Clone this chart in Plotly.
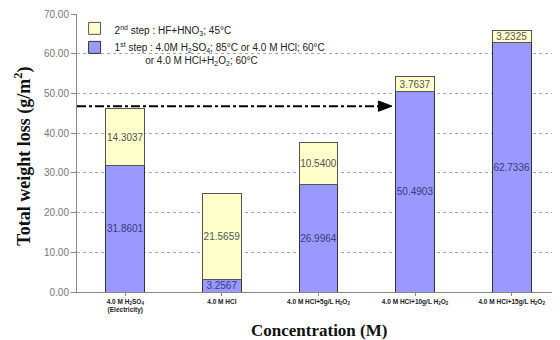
import plotly.graph_objects as go

categories = [
    "4.0 M H<sub>2</sub>SO<sub>4</sub><br>(Electricity)",
    "4.0 M HCl",
    "4.0 M HCl+5g/L H<sub>2</sub>O<sub>2</sub>",
    "4.0 M HCl+10g/L H<sub>2</sub>O<sub>2</sub>",
    "4.0 M HCl+15g/L H<sub>2</sub>O<sub>2</sub>",
]
step1 = [31.8601, 3.2567, 26.9964, 50.4903, 62.7336]
step2 = [14.3037, 21.5659, 10.5400, 3.7637, 3.2325]
ref_level = 46.8

name1 = ("1<sup>st</sup> step : 4.0M H<sub>2</sub>SO<sub>4</sub>; 85°C or 4.0 M HCl; 60°C<br>"
         "           or 4.0 M HCl+H<sub>2</sub>O<sub>2</sub>; 60°C")
name2 = "2<sup>nd</sup> step : HF+HNO<sub>3</sub>; 45°C"

xs = list(range(len(categories)))
fig = go.Figure()
fig.add_trace(go.Bar(
    x=xs, y=step1, name=name1, width=0.4,
    marker=dict(color="#9999FF", line=dict(color="#333333", width=1)),
    text=[f"{v:.4f}" for v in step1], textposition="inside", insidetextanchor="middle",
    textangle=0,
    textfont=dict(size=10, color="#3a3a80", family="Arial"),
))
fig.add_trace(go.Bar(
    x=xs, y=step2, name=name2, width=0.4,
    marker=dict(color="#FFFFCC", line=dict(color="#555555", width=1)),
    text=[f"{v:.4f}" for v in step2], textposition="inside", insidetextanchor="middle",
    textangle=0,
    textfont=dict(size=10, color="#555555", family="Arial"),
))

# dash-dot reference line with arrowhead
fig.add_shape(type="line", xref="x", yref="y", x0=-0.5, x1=2.66, y0=ref_level, y1=ref_level,
              line=dict(color="black", width=2, dash="dashdot"))
fig.add_shape(type="path", xref="x", yref="y",
              path=f"M 2.62,{ref_level+1.3} L 2.76,{ref_level} L 2.62,{ref_level-1.3} Z",
              fillcolor="black", line=dict(color="black", width=1))

fig.add_annotation(text="<b>Concentration (M)</b>", xref="paper", yref="paper",
                   x=0.5, y=-0.137, yanchor="middle", showarrow=False,
                   font=dict(family="Times New Roman, Liberation Serif, serif", size=17,
                             color="#111111"))
fig.add_annotation(text="<b>Total weight loss (g/m<sup>2</sup>)</b>", xref="paper", yref="paper",
                   x=-0.112, y=0.49, xanchor="center", yanchor="middle", textangle=-90,
                   showarrow=False,
                   font=dict(family="Times New Roman, Liberation Serif, serif", size=18,
                             color="#111111"))

fig.update_layout(
    width=552, height=332,
    barmode="stack",
    plot_bgcolor="white", paper_bgcolor="white",
    margin=dict(l=69, r=0, t=6, b=48, autoexpand=False),
    uniformtext=dict(minsize=9, mode="show"),
    showlegend=True,
    legend=dict(x=-0.005, y=0.995, xanchor="left", yanchor="top", traceorder="reversed",
                valign="top", bgcolor="rgba(0,0,0,0)",
                font=dict(family="Arial", size=10, color="#222222"),
                itemwidth=30, tracegroupgap=0),
    xaxis=dict(
        tickmode="array", tickvals=xs, ticktext=categories,
        range=[-0.5, 4.5], showgrid=False, showline=True, linecolor="#888888",
        ticks="outside", ticklen=3, tickcolor="#888888", automargin=False,
        tickfont=dict(family="Arial", size=6.5, color="#222222", weight="bold"),
    ),
    yaxis=dict(
        range=[0, 70], dtick=10, tickformat=".2f", automargin=False,
        showgrid=True, gridcolor="#aaaaaa", griddash="dot", gridwidth=1,
        showline=True, linecolor="#888888", ticks="outside", ticklen=5, tickcolor="#888888",
        tickfont=dict(family="Arial", size=10, color="#777777"),
        zeroline=False,
    ),
)
fig.write_html("out.html")
